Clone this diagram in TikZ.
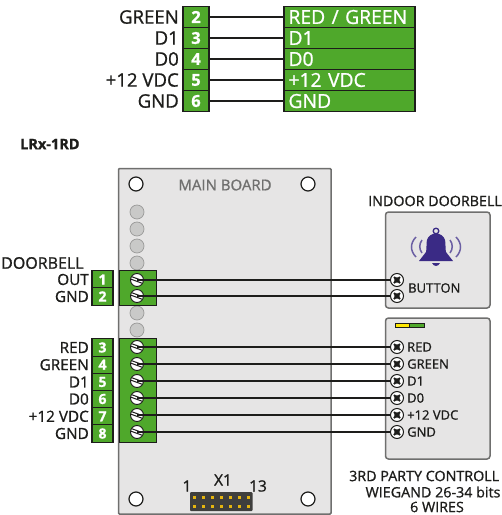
\documentclass[tikz,border=0pt]{standalone}
\usepackage{fontspec}
\setmainfont{Open Sans}[RawFeature={embolden=1.0}]
\definecolor{grn}{HTML}{4FA82B}
\definecolor{ink}{HTML}{1D1D1B}
\definecolor{boardfill}{HTML}{E6E5E5}
\definecolor{boardline}{HTML}{6F6F6E}
\definecolor{ledgrey}{HTML}{C9C9C8}
\definecolor{purp}{HTML}{3A2A85}
\definecolor{pinyel}{HTML}{E5B50F}
\tikzset{
 cell/.style={draw=ink,line width=1.1pt,fill=grn,text=white,inner sep=0pt,font=\bfseries\fontsize{#1}{#1}\selectfont},
 topnum/.style={cell=16.5,minimum width=26pt,minimum height=21pt},
 toptxt/.style={draw=ink,line width=1.1pt,fill=grn,text=white,inner sep=0pt,minimum width=131pt,minimum height=21pt,text width=122pt,align=left,font=\fontsize{19.3}{19.3}\selectfont},
 lownum/.style={cell=14,minimum width=21pt,minimum height=17.2pt},
 lab/.style={inner sep=0pt,anchor=east,text=ink,font=\fontsize{15.3}{15.3}\selectfont},
 toplab/.style={inner sep=0pt,anchor=east,text=ink,font=\fontsize{18.6}{18.6}\selectfont},
 termlab/.style={inner sep=0pt,anchor=west,text=ink,font=\fontsize{13}{13}\selectfont},
 title/.style={inner sep=0pt,text=ink,font=\fontsize{14.3}{14.3}\selectfont,align=center},
 wire/.style={draw=ink,line width=1.5pt},
 block/.style={draw=ink,line width=1pt,fill=grn},
 panel/.style={draw=boardline,line width=1.5pt,fill=boardfill,rounded corners=3pt},
 hole/.style={circle,draw=ink,line width=1.2pt,fill=white,minimum size=14pt,inner sep=0pt},
 led/.style={circle,draw=boardline!70,line width=.7pt,fill=ledgrey,minimum size=14pt,inner sep=0pt},
 screw/.style={circle,draw=ink,line width=.9pt,fill=white,minimum size=13pt,inner sep=0pt},
 term/.style={circle,draw=ink,line width=1pt,fill=white,minimum size=13pt,inner sep=0pt},
}
\begin{document}
\begin{tikzpicture}[x=1pt,y=-1pt]
\useasboundingbox (0,0) rectangle (502,515);
% top table
\foreach \n/\l/\t/\y in {2/GREEN/RED \slash\ GREEN/17,3/D1/D1/38,4/D0/D0/59,5/+12 VDC/+12 VDC/80,6/GND/GND/101}{
  \node[topnum] (tn\n) at (196,\y) {\n};
  \node[toptxt] (tt\n) at (349.5,\y) {\t};
  \node[toplab] at (179,\y) {\l};
  \draw[wire] (tn\n.east) -- (tt\n.west);
}
\node[inner sep=0pt,anchor=west,text=ink,font=\bfseries\fontsize{14.5}{14.5}\selectfont] (model) at (20,144) {LRx-1RD};
% board
\draw[panel,rounded corners=1pt] (118.5,168.5) rectangle (331,514);
\node[inner sep=0pt,text=boardline,font=\fontsize{15}{15}\selectfont] (mb) at (225,185) {MAIN BOARD};
\foreach \n/\x/\y in {a/136/184,b/308/184,c/136/499,d/308/499}
  \node[hole] (hole\n) at (\x,\y) {};
\foreach \y [count=\i] in {212,229,246,263,313,330}
  \node[led] (led\i) at (137,\y) {};
\draw[block] (119,270.5) rectangle (156,305.5);
\draw[block] (119,338.5) rectangle (156,442);
% left numbers and labels
\node[inner sep=0pt,anchor=west,text=ink,font=\fontsize{16}{16}\selectfont] (db) at (1,263) {DOORBELL};
\foreach \n/\l/\y in {1/OUT/279.5,2/GND/296.5,3/RED/347.5,4/GREEN/364.7,5/D1/382,6/D0/399,7/+12 VDC/416.3,8/GND/433.5}{
  \node[lownum] (ln\n) at (102.5,\y) {\n};
  \node[lab] at (89,\y) {\l};
}
% right panels
\draw[panel] (385.5,212) rectangle (490,308);
\draw[panel] (385.5,318) rectangle (490,459);
\node[title,anchor=west] (t1) at (368,201) {INDOOR DOORBELL};
\node[title,anchor=west] (t2) at (349,476) {3RD PARTY CONTROLL};
\node[title] (t3) at (433,492) {WIEGAND 26-34 bits};
\node[title] (t4) at (437,507) {6 WIRES};
% LED bar
\draw[draw=ink,line width=.8pt,fill=yellow!90!orange] (395,323.5) rectangle (409.5,327);
\draw[draw=ink,line width=.8pt,fill=grn] (409.5,323.5) rectangle (424,327);
% bell
\begin{scope}[shift={(436,248)}]
 \draw[purp,line width=1.3pt] (0,-17) circle (2.8);
 \fill[purp] (-10,4) .. controls (-9,0) and (-10,-4) .. (-9,-8) .. controls (-8,-12) and (-4,-14.5) .. (0,-14.5)
   .. controls (4,-14.5) and (8,-12) .. (9,-8) .. controls (10,-4) and (9,0) .. (10,4) -- (17,13) -- (-17,13) -- cycle;
 \fill[purp] (-4,15) .. controls (-2,19) and (2,19) .. (4,15) -- cycle;
 \draw[purp!75,line width=1.5pt] (-14,-8) .. controls (-17,-4) and (-17,1) .. (-14,5);
 \draw[purp!75,line width=1.5pt] (14,-8) .. controls (17,-4) and (17,1) .. (14,5);
 \draw[purp!75,line width=1.5pt] (-20,-11) .. controls (-26,-5) and (-26,3) .. (-20,9);
 \draw[purp!75,line width=1.5pt] (20,-11) .. controls (26,-5) and (26,3) .. (20,9);
\end{scope}
\node[termlab] (btn) at (408,288) {BUTTON};
% screws, terminals, wires
\foreach \i/\y in {1/280,2/296,3/347,4/364,5/381,6/398,7/415,8/432}{
  \node[screw] (sc\i) at (137,\y) {};
  \node[term] (tm\i) at (397,\y) {};
  \begin{scope}[shift={(137,\y)},rotate=-20]
    \draw[ink,line width=1pt] (-6,-1.3) -- (6,-1.3) (-6,1.3) -- (6,1.3);
  \end{scope}
  \begin{scope}[shift={(397,\y)}]
    \draw[ink,line width=1.8pt] (-3,-3) -- (3,3) (-3,3) -- (3,-3);
    \fill[ink] (0,0) circle (2.8);
  \end{scope}
  \draw[wire] (sc\i.center) -- (tm\i.west);
}
\foreach \i/\l in {3/RED,4/GREEN,5/D1,6/D0,7/+12 VDC,8/GND}
  \node[termlab] at ([xshift=10pt]tm\i.center) {\l};
% X1 connector
\node[inner sep=0pt,text=ink,font=\fontsize{15.5}{15.5}\selectfont] (x1) at (223,480) {X1};
\node[inner sep=0pt,text=ink,font=\fontsize{15.5}{15.5}\selectfont] (p1) at (187,486) {1};
\node[inner sep=0pt,text=ink,font=\fontsize{15.5}{15.5}\selectfont] (p13) at (258,486) {13};
\fill[ink!85,rounded corners=1pt] (190,492) rectangle (252.5,511);
\foreach \x in {194,203,212,221,230,239,248}
  \foreach \y in {497,506}
    \fill[pinyel] (\x-1.5,\y-1.5) rectangle (\x+1.5,\y+1.5);
\end{tikzpicture}
\end{document}
